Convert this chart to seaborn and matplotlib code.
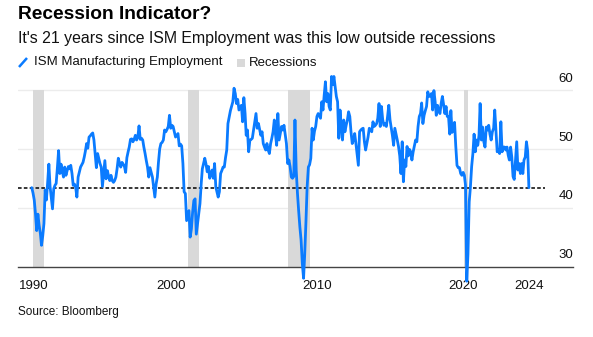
import pandas as pd
import matplotlib
matplotlib.use("Agg")
import matplotlib.pyplot as plt
import matplotlib.dates as mdates
import matplotlib.transforms as mtransforms
from matplotlib.lines import Line2D
from matplotlib.patches import Rectangle
import seaborn as sns

# ISM Manufacturing Employment index, monthly readings (Jul 1990 - Jul 2024)
ism_1990s = [
    43.4, 42.5, 41.3, 39.0, 36.1, 38.9,                                # 1990 (Jul-Dec)
    37.0, 35.6, 33.6, 35.2, 37.3, 43.0, 41.3, 44.2, 47.4, 43.6, 41.6, 39.8,  # 1991
    43.2, 43.8, 44.1, 46.8, 49.7, 45.8, 47.4, 46.2, 45.2, 46.9, 45.5, 46.3,  # 1992
    47.0, 46.6, 47.2, 45.8, 43.8, 44.0, 43.5, 41.8, 45.2, 46.0, 46.9, 47.3,  # 1993
    47.7, 48.6, 49.6, 50.9, 50.1, 52.0, 52.2, 52.5, 52.7, 51.5, 49.2, 46.8,  # 1994
    49.2, 48.3, 47.5, 46.9, 43.6, 45.8, 48.0, 44.9, 46.3, 45.4, 44.6, 45.5,  # 1995
    44.6, 44.3, 44.6, 45.2, 46.6, 48.4, 47.6, 46.9, 47.7, 47.4, 47.0, 46.0,  # 1996
    48.5, 49.5, 50.3, 51.6, 51.7, 51.2, 51.6, 52.3, 51.5, 52.0, 53.9, 51.6,  # 1997
    51.8, 51.5, 50.3, 49.2, 48.0, 46.9, 45.2, 46.8, 46.0, 45.2, 43.5, 41.8,  # 1998
    44.0, 45.2, 47.7, 50.0, 50.9, 51.1, 51.5, 53.2, 52.9, 53.3, 53.8, 55.7,  # 1999
]
ism_2000s = [
    53.5, 54.0, 53.8, 52.9, 52.0, 52.3, 52.6, 50.5, 50.8, 50.5, 47.5, 42.7,  # 2000
    42.4, 37.8, 38.6, 39.5, 35.0, 36.4, 39.2, 41.2, 41.5, 35.5, 37.3, 39.0,  # 2001
    40.7, 44.1, 46.6, 47.5, 48.4, 47.4, 46.1, 47.0, 45.0, 45.6, 46.4, 45.0,  # 2002
    47.5, 43.5, 42.7, 41.8, 42.7, 45.8, 46.3, 46.9, 46.9, 48.5, 49.8, 54.3,  # 2003
    55.4, 56.5, 57.2, 58.0, 60.3, 59.4, 57.7, 58.4, 56.6, 57.0, 57.4, 54.6,  # 2004
    58.7, 56.0, 52.3, 53.2, 49.5, 51.5, 51.6, 51.8, 53.2, 54.6, 56.0, 53.5,  # 2005
    54.3, 53.2, 52.3, 52.9, 50.9, 50.3, 49.8, 50.9, 49.8, 49.2, 50.9, 51.8,  # 2006
    52.9, 54.9, 52.5, 50.6, 56.0, 51.5, 52.6, 53.8, 53.2, 54.0, 52.4, 50.9,  # 2007
    47.5, 48.1, 47.0, 45.2, 45.0, 45.3, 54.9, 46.4, 42.5, 39.5, 36.7, 34.5,  # 2008
    30.5, 28.0, 32.0, 37.5, 43.5, 46.9, 47.3, 48.4, 53.5, 51.5, 53.0, 53.8,  # 2009
]
ism_2010s = [
    55.5, 56.0, 55.6, 55.2, 58.0, 56.6, 59.1, 61.4, 58.0, 59.4, 57.2, 56.6,  # 2010
    62.3, 60.9, 62.3, 60.5, 58.9, 58.0, 51.8, 56.6, 53.8, 51.5, 54.9, 52.9,  # 2011
    54.0, 54.9, 56.3, 55.5, 52.9, 50.9, 51.5, 52.6, 50.9, 49.0, 47.2, 52.9,  # 2012
    53.2, 53.4, 53.5, 51.2, 49.8, 50.9, 52.0, 53.5, 53.2, 52.9, 54.6, 53.8,  # 2013
    54.0, 54.3, 55.2, 57.7, 53.8, 57.2, 55.0, 54.0, 54.3, 53.8, 55.5, 57.4,  # 2014
    54.9, 53.5, 52.3, 50.6, 53.5, 52.5, 51.5, 50.4, 48.8, 45.8, 51.2, 44.4,  # 2015
    48.1, 47.0, 50.4, 48.8, 49.9, 49.5, 48.1, 49.5, 50.5, 51.5, 51.2, 53.8,  # 2016
    55.5, 56.0, 57.8, 54.3, 55.7, 56.5, 57.2, 59.7, 58.9, 59.0, 59.4, 56.6,  # 2017
    59.9, 58.0, 55.7, 57.4, 56.5, 56.0, 57.7, 58.9, 57.5, 56.0, 57.2, 55.5,  # 2018
    55.5, 52.5, 56.5, 52.8, 53.7, 54.5, 50.5, 47.2, 46.8, 46.8, 45.8, 45.5,  # 2019
]
ism_2020s = [
    46.0, 45.5, 43.8, 27.5, 32.1, 41.0, 43.5, 47.0, 49.2, 52.5, 49.5, 51.5,  # 2020
    50.6, 52.3, 57.7, 51.5, 53.7, 51.2, 50.3, 53.7, 53.2, 54.0, 52.5, 51.5,  # 2021
    52.9, 53.5, 56.6, 52.9, 49.5, 49.8, 49.2, 54.6, 49.5, 50.3, 50.3, 49.8,  # 2022
    50.3, 48.9, 48.1, 50.3, 48.6, 45.3, 44.8, 48.0, 51.2, 46.4, 47.5, 45.8,  # 2023
    47.5, 45.8, 48.1, 48.6, 51.2, 49.6, 43.4,                                # 2024 (Jan-Jul)
]

# NBER recession periods
recession_starts = ["1990-08-01", "2001-03-01", "2008-01-01", "2020-02-01"]
recession_ends = ["1991-04-30", "2001-11-30", "2009-06-30", "2020-04-30"]

# x-axis ticks and labels
tick_dates = ["1990-09-01", "2000-01-01", "2010-01-01", "2020-01-01", "2024-07-01"]
tick_labels = ["1990", "2000", "2010", "2020", "2024"]
y_labels = [30, 40, 50, 60]

values = ism_1990s + ism_2000s + ism_2010s + ism_2020s
dates = pd.date_range("1990-07-01", periods=len(values), freq="MS")
df = pd.DataFrame({"date": dates, "ism": values})
latest = df["ism"].iloc[-1]

BLUE = "#0a7bff"
GREY_BAND = "#d9d9d9"
GRID = "#ececec"
AXIS = "#444444"

sns.set_style("white")
plt.rcParams["font.family"] = ["Liberation Sans", "DejaVu Sans"]
plt.rcParams["lines.scale_dashes"] = False

W, H = 593, 337
fig = plt.figure(figsize=(W / 100, H / 100), dpi=100)
ax_left, ax_right, ax_bottom, y_top = 18, 573, 266.5, 75.3
ax = fig.add_axes([ax_left / W, 1 - ax_bottom / H,
                   (ax_right - ax_left) / W, (ax_bottom - y_top) / H])

ymin, ymax = 30, 62.5
ax.set_ylim(ymin, ymax)
ax.set_xlim(mdates.date2num(pd.Timestamp("1989-07-22")),
            mdates.date2num(pd.Timestamp("2027-07-08")))

# recession shading
for s, e in zip(recession_starts, recession_ends):
    ax.fill_betweenx([30, 60], mdates.date2num(pd.Timestamp(s)),
                     mdates.date2num(pd.Timestamp(e)),
                     color=GREY_BAND, lw=0, zorder=1)

# horizontal gridlines
for v in [40, 50, 60]:
    ax.axhline(v, color=GRID, lw=1.0, zorder=0)

# latest reading reference line
ax.axhline(latest, xmin=0, xmax=(545 - ax_left) / (ax_right - ax_left),
           color="black", lw=1.1, dashes=(2.6, 1.6), zorder=2)

sns.lineplot(data=df, x="date", y="ism", ax=ax, color=BLUE, lw=2.0,
             zorder=3, legend=False)
for ln in ax.lines[-1:]:
    ln.set_clip_on(False)
    ln.set_solid_joinstyle("round")

for side in ["top", "left", "right"]:
    ax.spines[side].set_visible(False)
ax.spines["bottom"].set_color(AXIS)
ax.spines["bottom"].set_linewidth(1.0)

ax.set_xticks([mdates.date2num(pd.Timestamp(d)) for d in tick_dates])
ax.set_xticklabels(tick_labels)
ax.tick_params(axis="x", length=3, width=0.9, color=AXIS, pad=7,
               labelsize=9.5, labelcolor="#111111")
ax.set_yticks([])
ax.set_xlabel("")
ax.set_ylabel("")

# y labels sit just above their gridlines, right aligned
lab_tf = mtransforms.offset_copy(
    mtransforms.blended_transform_factory(ax.transAxes, ax.transData),
    fig=fig, x=0, y=6, units="points")
for v in y_labels:
    ax.text(1.0, v, str(v), transform=lab_tf, ha="right", va="baseline",
            fontsize=9.5, color="#111111")

# titles
fig.text(18 / W, 1 - 14.5 / H, "Recession Indicator?", fontsize=13.8,
         fontweight="bold", va="center", ha="left", color="black")
fig.text(18 / W, 1 - 39 / H,
         "It's 21 years since ISM Employment was this low outside recessions",
         fontsize=11.4, va="center", ha="left", color="#111111")

# legend
fig.add_artist(Line2D([19 / W, 27 / W], [1 - 67 / H, 1 - 58 / H],
                      color=BLUE, lw=1.8, solid_capstyle="butt"))
fig.text(34 / W, 1 - 62.5 / H, "ISM Manufacturing Employment", fontsize=9.5,
         va="center", ha="left", color="#111111")
fig.add_artist(Rectangle((237 / W, 1 - 67 / H), 8 / W, 8 / H,
                         transform=fig.transFigure, color=GREY_BAND, lw=0))
fig.text(249 / W, 1 - 62.5 / H, "Recessions", fontsize=9.5,
         va="center", ha="left", color="#111111")

fig.text(18 / W, 1 - 311.5 / H, "Source: Bloomberg", fontsize=8.5,
         va="center", ha="left", color="#111111")

fig.savefig("out.png", dpi=100)
